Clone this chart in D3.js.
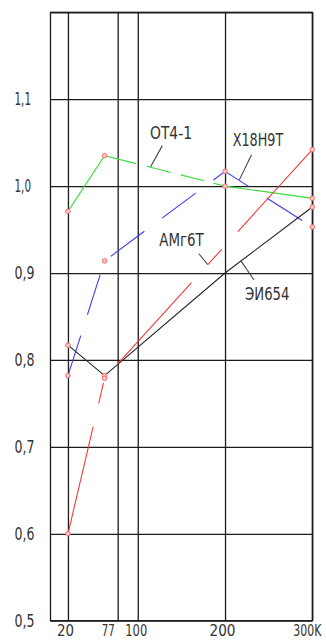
<!DOCTYPE html>
<html>
<head>
<meta charset="utf-8">
<script src="https://cdn.jsdelivr.net/npm/d3@7"></script>
<style>
  html, body { margin: 0; padding: 0; background: #fff; }
  svg { display: block; }
  .grid line { stroke: #1c1c1c; stroke-width: 1.3; }
  .grid path { display: none; }
  .tick text, .lbl { font-family: "Liberation Sans Narrow", "DejaVu Sans Condensed", "Liberation Sans", sans-serif; fill: #333; }
</style>
</head>
<body>
<div id="chart"></div>
<script>
// temperature, K
const tempsFull = [20, 62, 200, 300];
const tempsRed = [20, 62, 300];

// relative values per alloy
const ot41 = [0.971, 1.035, 1.000, 0.986];
const x18n9t = [0.782, 0.914, 1.017, 0.953];
const ei654 = [0.817, 0.782, 0.900, 0.976];
const amg6t = [0.600, 0.779, 1.042];

const xTicks = [20, 77, 100, 200, 300];
const xTickLabels = ["20", "77", "100", "200", "300K"];
const yTicks = [0.5, 0.6, 0.7, 0.8, 0.9, 1.0, 1.1, 1.2];

const W = 326, H = 642;
const margin = { top: 12.3, left: 50.5 };
const width = 261.8;
const height = 608.4;

const svg = d3.select("#chart").append("svg")
  .attr("width", W)
  .attr("height", H);

const g = svg.append("g")
  .attr("transform", `translate(${margin.left},${margin.top})`);

const x = d3.scaleLinear().domain([0, 300]).range([0, width]);
const y = d3.scaleLinear().domain([0.5, 1.2]).range([height, 0]);

// vertical grid + labels
const xAxis = g.append("g")
  .attr("class", "grid")
  .attr("transform", `translate(0,${height})`)
  .call(d3.axisBottom(x)
    .tickValues(xTicks)
    .tickSize(-height)
    .tickSizeOuter(0)
    .tickFormat((d, i) => xTickLabels[i]));

// label placement tweaks (left of the grid line like the original)
const xLab = {
  20: { cx: -3, w: 17 },
  77: { cx: -10, w: 13 },
  100: { cx: -2, w: 22 },
  200: { cx: -3, w: 26 },
  300: { cx: 8.5, w: 28 }
};
xAxis.selectAll(".tick text")
  .attr("font-size", 16)
  .attr("y", 15.5)
  .attr("dy", null)
  .attr("text-anchor", d => d === 300 ? "end" : "middle")
  .attr("x", d => xLab[d].cx)
  .attr("textLength", d => xLab[d].w)
  .attr("lengthAdjust", "spacingAndGlyphs");

// horizontal grid + labels
const yAxis = g.append("g")
  .attr("class", "grid")
  .call(d3.axisLeft(y)
    .tickValues(yTicks)
    .tickSize(-width)
    .tickSizeOuter(0)
    .tickFormat(d => d >= 1.15 ? "" : d.toFixed(1).replace(".", ",")));

yAxis.selectAll(".tick text")
  .attr("font-size", 18)
  .attr("text-anchor", "start")
  .attr("x", -36)
  .attr("dy", "0.3em")
  .attr("textLength", d => d >= 1.0 ? 16.5 : 20)
  .attr("lengthAdjust", "spacingAndGlyphs");

// frame
g.append("rect")
  .attr("width", width)
  .attr("height", height)
  .attr("fill", "none")
  .attr("stroke", "#1c1c1c")
  .attr("stroke-width", 1.3);

const series = [
  { name: "ОТ4-1", t: tempsFull, v: ot41, color: "#3ddc3d", dash: "99,11,25,10,24,10", marks: [1, 1, 1, 1] },
  { name: "Х18Н9Т", t: tempsFull, v: x18n9t, color: "#3a3af5", dash: "42,22", marks: [1, 1, 1, 1] },
  { name: "ЭИ654", t: tempsFull, v: ei654, color: "#222", dash: null, marks: [1, 1, 0, 1] },
  { name: "АМг6Т", t: tempsRed, v: amg6t, color: "#f53a3a", dash: "110,24,21,24", marks: [1, 1, 1] }
];

const line = d3.line()
  .x(d => x(d[0]))
  .y(d => y(d[1]));

series.forEach(s => {
  const pts = s.t.map((t, i) => [t, s.v[i]]);
  g.append("path")
    .datum(pts)
    .attr("d", line)
    .attr("fill", "none")
    .attr("stroke", s.color)
    .attr("stroke-width", 1.1)
    .attr("stroke-dasharray", s.dash);
});

// markers on top
series.forEach(s => {
  const pts = s.t.map((t, i) => [t, s.v[i]]).filter((d, i) => s.marks[i]);
  g.selectAll(null)
    .data(pts)
    .enter().append("circle")
    .attr("cx", d => x(d[0]))
    .attr("cy", d => y(d[1]))
    .attr("r", 2.3)
    .attr("fill", "#ffc4c4")
    .attr("stroke", "#ee6f6f")
    .attr("stroke-width", 1);
});

// labels with leader lines, in data coordinates
const notes = [
  { text: "ОТ4-1", at: [114, 1.054], w: 42, from: [128.1, 1.0466], to: [114.8, 1.0224] },
  { text: "Х18Н9Т", at: [208.8, 1.0466], w: 50.5, from: [230.4, 1.0362], to: [216.4, 1.0072] },
  { text: "АМг6Т", at: [124.7, 0.9312], w: 44.5, from: [170, 0.9222], to: [180, 0.9099] },
  { text: "ЭИ654", at: [223, 0.869], w: 44.3, from: [218, 0.9143], to: [233.2, 0.892] }
];

notes.forEach(n => {
  g.append("line")
    .attr("x1", x(n.from[0])).attr("y1", y(n.from[1]))
    .attr("x2", x(n.to[0])).attr("y2", y(n.to[1]))
    .attr("stroke", "#444")
    .attr("stroke-width", 1.1);
  g.append("text")
    .attr("class", "lbl")
    .attr("x", x(n.at[0]))
    .attr("y", y(n.at[1]))
    .attr("font-size", 18)
    .attr("textLength", n.w)
    .attr("lengthAdjust", "spacingAndGlyphs")
    .text(n.text);
});
</script>
</body>
</html>
